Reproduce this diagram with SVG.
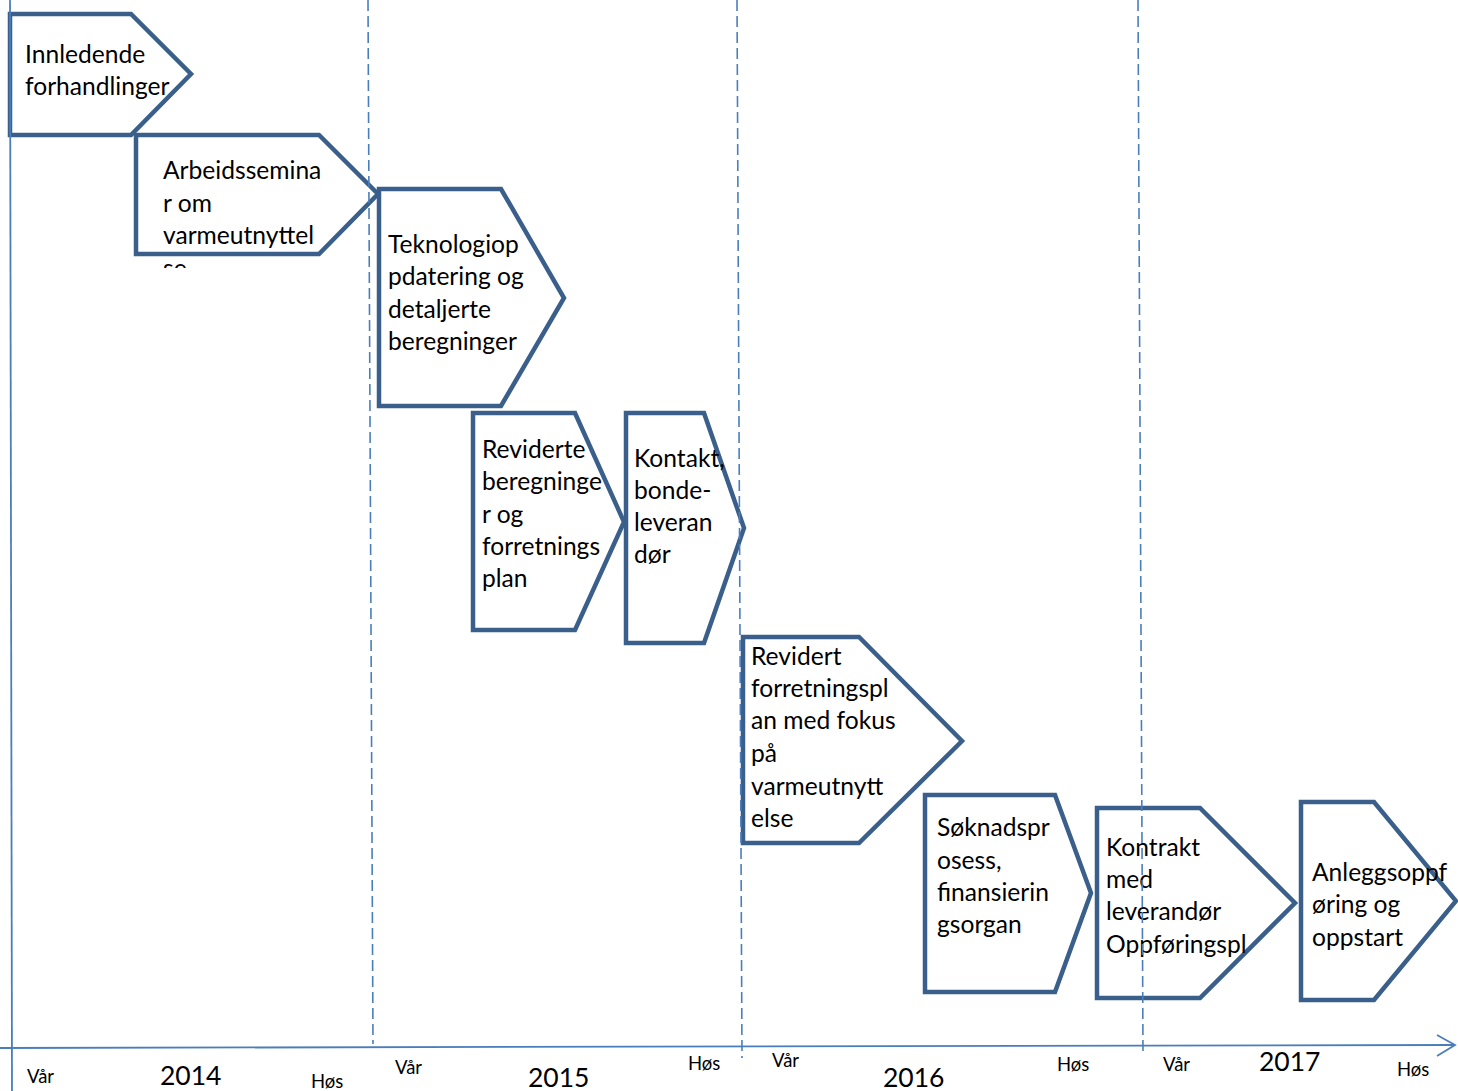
<svg xmlns="http://www.w3.org/2000/svg" width="1458" height="1091" viewBox="0 0 1458 1091">
<style>
.shape{fill:#ffffff;stroke:#3A5F8B;stroke-width:4.5;stroke-linejoin:miter}
.lbl{font-family:Lato,"Open Sans","Liberation Sans",sans-serif;font-size:24.6px;fill:#000000}
.ax{font-family:Lato,"Open Sans","Liberation Sans",sans-serif;fill:#000000}
.season{font-size:18.5px}
.year{font-size:26.5px}
.dash{stroke:#4A7EBB;stroke-width:1.6;stroke-dasharray:11 5;fill:none}
.solid{stroke:#4A7EBB;stroke-width:1.8;fill:none}
</style>
<defs>
<clipPath id="clipArb"><rect x="136" y="135" width="260" height="133"/></clipPath>
</defs>
<rect x="0" y="0" width="1458" height="1091" fill="#ffffff"/>

<g id="node-innledende">
<polygon class="shape" points="10,14 131,14 191,74 131,135 10,135"/>
<text class="lbl" x="25"><tspan x="25" y="63">Innledende</tspan><tspan x="25" y="95">forhandlinger</tspan></text>
</g>

<g id="node-arbeidsseminar">
<polygon class="shape" points="136,135 319,135 378,194 319,254 136,254"/>
<text class="lbl" clip-path="url(#clipArb)"><tspan x="163" y="179">Arbeidssemina</tspan><tspan x="163" y="212">r om</tspan><tspan x="163" y="244">varmeutnyttel</tspan><tspan x="163" y="277">se</tspan></text>
</g>

<g id="node-teknologi">
<polygon class="shape" points="379,189 501,189 564,298 501,406 379,406"/>
<text class="lbl"><tspan x="388" y="253">Teknologiop</tspan><tspan x="388" y="285">pdatering og</tspan><tspan x="388" y="318">detaljerte</tspan><tspan x="388" y="350">beregninger</tspan></text>
</g>

<g id="node-reviderte">
<polygon class="shape" points="473,413 575,413 624,522 575,630 473,630"/>
<text class="lbl"><tspan x="482" y="458">Reviderte</tspan><tspan x="482" y="490">beregninge</tspan><tspan x="482" y="523">r og</tspan><tspan x="482" y="555">forretnings</tspan><tspan x="482" y="587">plan</tspan></text>
</g>

<g id="node-kontakt">
<polygon class="shape" points="626,413 704,413 744,528 704,643 626,643"/>
<text class="lbl"><tspan x="634" y="467">Kontakt,</tspan><tspan x="634" y="499">bonde-</tspan><tspan x="634" y="531">leveran</tspan><tspan x="634" y="563">dør</tspan></text>
</g>

<g id="node-revidert">
<polygon class="shape" points="743,637 859,637 962,741 859,843 743,843"/>
<text class="lbl"><tspan x="751" y="665">Revidert</tspan><tspan x="751" y="697">forretningspl</tspan><tspan x="751" y="729">an med fokus</tspan><tspan x="751" y="762">på</tspan><tspan x="751" y="795">varmeutnytt</tspan><tspan x="751" y="827">else</tspan></text>
</g>

<g id="node-soknad">
<polygon class="shape" points="925,795 1055,795 1091,893 1055,992 925,992"/>
<text class="lbl"><tspan x="937" y="836">Søknadspr</tspan><tspan x="937" y="869">osess,</tspan><tspan x="937" y="901">finansierin</tspan><tspan x="937" y="933">gsorgan</tspan></text>
</g>

<g id="node-kontrakt">
<polygon class="shape" points="1097,808 1200,808 1295,903 1200,998 1097,998"/>
<text class="lbl"><tspan x="1106" y="856">Kontrakt</tspan><tspan x="1106" y="888">med</tspan><tspan x="1106" y="920">leverandør</tspan><tspan x="1106" y="953">Oppføringspl</tspan></text>
</g>

<g id="node-anlegg">
<polygon class="shape" points="1301,802 1374,802 1456,901 1374,1000 1301,1000"/>
<text class="lbl"><tspan x="1312" y="881">Anleggsoppf</tspan><tspan x="1312" y="913">øring og</tspan><tspan x="1312" y="946">oppstart</tspan></text>
</g>

<g id="connectors">
<line class="solid" x1="10" y1="0" x2="12" y2="1091"/>
<line class="dash" x1="368" y1="0" x2="373" y2="1044"/>
<line class="dash" x1="737" y1="0" x2="742" y2="1058"/>
<line class="dash" x1="1138" y1="0" x2="1143" y2="1052"/>
<line class="solid" x1="0" y1="1048" x2="1454" y2="1045"/>
<polyline class="solid" points="1437,1035 1455,1045 1437,1056"/>
</g>

<g id="axis-labels">
<text class="ax season" x="27" y="1083">Vår</text>
<text class="ax year" x="160" y="1085">2014</text>
<text class="ax season" x="311" y="1088">Høs</text>
<text class="ax season" x="395" y="1074">Vår</text>
<text class="ax year" x="528" y="1087">2015</text>
<text class="ax season" x="688" y="1070">Høs</text>
<text class="ax season" x="772" y="1067">Vår</text>
<text class="ax year" x="883" y="1087">2016</text>
<text class="ax season" x="1057" y="1071">Høs</text>
<text class="ax season" x="1163" y="1071">Vår</text>
<text class="ax year" x="1259" y="1071">2017</text>
<text class="ax season" x="1397" y="1076">Høs</text>
</g>
</svg>
